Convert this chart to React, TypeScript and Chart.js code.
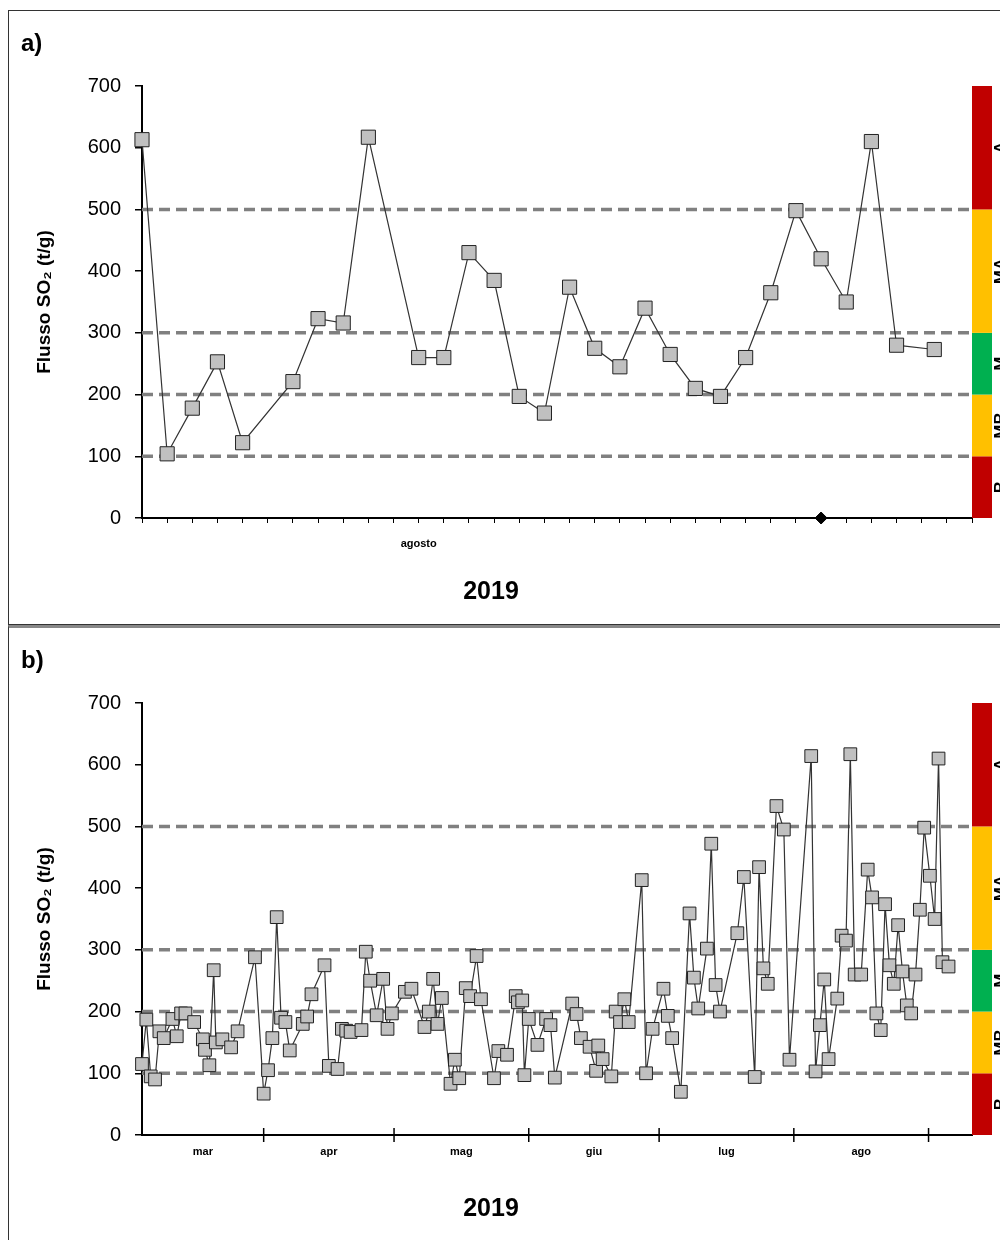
import React, { useEffect, useRef } from "react";
import { Chart, registerables } from "chart.js";

Chart.register(...registerables);

// panel a) — daily flux, August 2019 (x = day index on the axis)
const augDays = [0, 1, 2, 3, 4, 6, 7, 8, 9, 11, 12, 13, 14, 15, 16, 17, 18, 19, 20, 21, 22, 23, 24, 25, 26, 27, 28, 29, 30, 31.5];
const augFlux = [613, 104, 178, 253, 122, 221, 323, 316, 617, 260, 260, 430, 385, 197, 170, 374, 275, 245, 340, 265, 210, 197, 260, 365, 498, 420, 350, 610, 280, 273];
const augMarkerDay = [27];

// panel b) — March–August 2019 (x = days since 1 March)
const seasonDays = [
  3, 4, 5, 6, 7, 8, 10, 11, 12, 13, 15, 17, 17.5, 18.5, 19.5, 20, 21.5, 23.5, 25, 29,
  31, 32, 33, 34, 35, 36, 37, 40, 41, 42, 45, 46, 48, 49, 50, 51, 53.5, 54.5, 55.5, 57,
  58.5, 59.5, 60.5, 63.5, 65, 68, 69, 70, 71, 72, 74, 75, 76, 77.5, 78.5, 80, 81, 84, 85, 87,
  89, 89.5, 90.5, 91, 92, 94, 96, 97, 98, 102, 103, 104, 106, 107.5, 108, 109, 111, 112, 113, 114,
  115, 118, 119, 120.5, 123, 124, 125, 127, 129, 130, 131, 133, 134, 135, 136, 140, 141.5, 144, 145, 146,
  147, 149, 150.7, 152, 157, 158, 159, 160, 161, 163, 164, 165, 166, 167, 168.5, 170, 171, 172, 173, 174,
  175, 176, 177, 178, 179, 180, 181, 182, 183, 184.3, 185.4, 186.3, 187.2, 188.6,
];
const seasonFlux = [
  115, 187, 95, 90, 168, 157, 188, 160, 197, 197, 183, 155, 138, 113, 267, 150, 155, 142, 168, 288,
  67, 105, 157, 353, 190, 183, 137, 180, 192, 228, 275, 112, 107, 172, 169, 167, 170, 297, 250, 194,
  253, 172, 197, 232, 237, 175, 200, 253, 180, 222, 83, 122, 92, 238, 225, 290, 220, 92, 136, 130,
  225, 215, 218, 97, 188, 146, 188, 178, 93, 213, 196, 157, 143, 104, 145, 123, 95, 200, 183, 220,
  183, 413, 100, 172, 237, 193, 157, 70, 359, 255, 205, 302, 472, 243, 200, 327, 418, 94, 434, 270,
  245, 533, 495, 122, 614, 103, 178, 252, 123, 221, 323, 315, 617, 260, 260, 430, 385, 197, 170, 374,
  275, 245, 340, 265, 210, 197, 260, 365, 498, 420, 350, 610, 280, 273,
];
const monthStarts = [31, 61, 92, 122, 153, 184];
const monthLabels = ["mar", "apr", "mag", "giu", "lug", "ago"];
const monthMids = [17, 46, 76.5, 107, 137.5, 168.5];

// threshold lines and activity bands
const thresholds = [100, 200, 300, 500];
const bandLimits = [0, 100, 200, 300, 500, 700];
const bandNames = ["B", "MB", "M", "MA", "A"];
const bandColors = ["#c00000", "#ffc000", "#00b050", "#ffc000", "#c00000"];

const FONT = "'Liberation Sans', Arial, sans-serif";

const bandPlugin = {
  id: "bands",
  afterDraw(chart: any) {
    const { ctx, chartArea, scales } = chart;
    const y = scales.y;
    ctx.save();
    for (let i = 0; i < bandNames.length; i++) {
      const top = y.getPixelForValue(bandLimits[i + 1]);
      const bot = y.getPixelForValue(bandLimits[i]);
      ctx.fillStyle = bandColors[i];
      ctx.fillRect(chartArea.right, top, 20, bot - top);
      ctx.save();
      ctx.translate(chartArea.right + 38, (top + bot) / 2);
      ctx.rotate(-Math.PI / 2);
      ctx.fillStyle = "#000";
      ctx.font = `bold 17px ${FONT}`;
      ctx.textAlign = "center";
      ctx.textBaseline = "bottom";
      ctx.fillText(bandNames[i], 0, 0);
      ctx.restore();
    }
    ctx.restore();
  },
};

const monthPlugin = {
  id: "months",
  afterDraw(chart: any, _a: any, opts: any) {
    if (!opts || !opts.on) return;
    const { ctx, scales } = chart;
    const x = scales.x;
    const y0 = scales.y.getPixelForValue(0);
    ctx.save();
    ctx.strokeStyle = "#000";
    ctx.lineWidth = 1.5;
    monthStarts.forEach((d) => {
      const px = x.getPixelForValue(d);
      ctx.beginPath();
      ctx.moveTo(px, y0 - 7);
      ctx.lineTo(px, y0 + 7);
      ctx.stroke();
    });
    ctx.fillStyle = "#000";
    ctx.font = `bold 11px ${FONT}`;
    ctx.textAlign = "center";
    ctx.textBaseline = "middle";
    monthMids.forEach((d, i) => {
      ctx.fillText(monthLabels[i], x.getPixelForValue(d), y0 + 17);
    });
    ctx.restore();
  },
};

function Panel({ label, days, flux, xMin, xMax, seasonal }: any) {
  const ref = useRef<HTMLCanvasElement>(null);

  useEffect(() => {
    if (!ref.current) return;
    const dashed = thresholds.map((t) => ({
      type: "line",
      data: [
        { x: xMin, y: t },
        { x: xMax, y: t },
      ],
      borderColor: "#808080",
      borderWidth: 3.5,
      borderDash: [11, 6],
      pointRadius: 0,
      order: 3,
    }));
    const datasets: any[] = [
      ...dashed,
      {
        type: "line",
        data: days.map((d: number, i: number) => ({ x: d, y: flux[i] })),
        borderColor: "#333",
        borderWidth: 1.2,
        pointStyle: "rect",
        pointRadius: seasonal ? 9 : 10,
        pointBackgroundColor: "#c0c0c0",
        pointBorderColor: "#222",
        pointBorderWidth: 1,
        clip: false,
        order: 1,
      },
    ];
    if (!seasonal) {
      datasets.push({
        type: "line",
        data: augMarkerDay.map((d) => ({ x: d, y: 0 })),
        showLine: false,
        pointStyle: "rectRot",
        pointRadius: 6,
        pointBackgroundColor: "#000",
        pointBorderColor: "#000",
        clip: false,
        order: 0,
      });
    }
    const chart = new Chart(ref.current, {
      type: "line",
      data: { datasets },
      plugins: [bandPlugin, monthPlugin],
      options: {
        animation: false,
        responsive: false,
        layout: { padding: { top: 75, right: 35, left: 0, bottom: 0 } },
        plugins: {
          legend: { display: false },
          tooltip: { enabled: false },
          months: { on: seasonal },
        } as any,
        scales: {
          x: {
            type: "linear",
            min: xMin,
            max: xMax,
            afterFit: (s: any) => {
              s.height = 106;
            },
            afterBuildTicks: (s: any) => {
              if (seasonal) s.ticks = [];
              else {
                const t = [];
                for (let i = 0; i <= 33; i++) t.push({ value: i });
                s.ticks = t;
              }
            },
            border: { color: "#000", width: 2 },
            grid: { drawOnChartArea: false, color: "#000", tickLength: 5 },
            ticks: {
              autoSkip: false,
              maxRotation: 0,
              padding: 14,
              color: "#000",
              font: { family: FONT, size: 11, weight: "bold" },
              callback: (v: any) => (v === 11 ? "agosto" : ""),
            },
          },
          y: {
            min: 0,
            max: 700,
            afterFit: (s: any) => {
              s.width = 133;
            },
            border: { color: "#000", width: 2 },
            grid: { drawOnChartArea: false, color: "#000", tickLength: 7, lineWidth: 1.5 },
            ticks: {
              stepSize: 100,
              padding: 14,
              color: "#000",
              font: { family: FONT, size: 20 },
            },
            title: {
              display: true,
              text: "Flusso SO₂ (t/g)",
              color: "#000",
              font: { family: FONT, size: 19, weight: "bold" },
              padding: { top: 24, bottom: 0 },
            },
          },
        },
      },
    });
    return () => chart.destroy();
  }, []);

  return (
    <div
      style={{
        position: "relative",
        width: 998,
        height: 613,
        border: "1px solid #333",
        borderTop: seasonal ? "3px solid #888" : "1px solid #333",
        background: "#fff",
      }}
    >
      <canvas ref={ref} width={998} height={613} style={{ display: "block" }} />
      <div
        style={{
          position: "absolute",
          left: 12,
          top: 18,
          font: `bold 24px ${FONT}`,
          color: "#000",
        }}
      >
        {label}
      </div>
      <div
        style={{
          position: "absolute",
          left: 432,
          width: 100,
          textAlign: "center",
          top: 565,
          font: `bold 25px ${FONT}`,
          color: "#000",
        }}
      >
        2019
      </div>
    </div>
  );
}

export default function App() {
  return (
    <div style={{ marginTop: 2, width: 1000 }}>
      <Panel label="a)" days={augDays} flux={augFlux} xMin={0} xMax={33} seasonal={false} />
      <Panel label="b)" days={seasonDays} flux={seasonFlux} xMin={3} xMax={194} seasonal={true} />
    </div>
  );
}
